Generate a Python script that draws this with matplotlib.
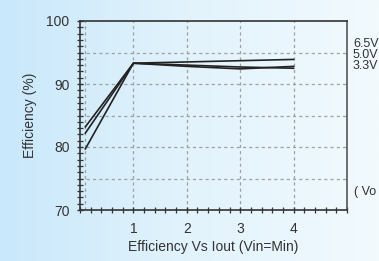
import numpy as np
import matplotlib.pyplot as plt
from matplotlib.colors import LinearSegmentedColormap

plt.rcParams['font.family'] = ['Liberation Sans', 'DejaVu Sans']

# data
iout = [0.1, 1, 2, 3, 4]
eff_65 = [83.2, 93.3, 93.5, 93.7, 93.9]
eff_50 = [82.2, 93.3, 93.0, 92.7, 92.5]
eff_33 = [79.7, 93.3, 92.8, 92.4, 92.8]
labels = ["6.5V", "5.0V", "3.3V"]

fig = plt.figure(figsize=(3.79, 2.61), dpi=100)

# background gradient
bg = fig.add_axes([0, 0, 1, 1], zorder=-10)
grad = np.linspace(0, 1, 256).reshape(1, -1)
cmap = LinearSegmentedColormap.from_list("bg", ["#c9e8fb", "#e2f3fc", "#f2fafe"])
bg.imshow(grad, aspect="auto", cmap=cmap, extent=[0, 1, 0, 1])
bg.axis("off")

ax = fig.add_axes([80 / 379, 1 - 210 / 261, 267 / 379, 189 / 261])
ax.patch.set_alpha(0)

for y in [eff_65, eff_50, eff_33]:
    ax.plot(iout, y, color="#222222", lw=1.2)

ax.set_xlim(0, 5)
ax.set_ylim(70, 100)
ax.set_xticks([1, 2, 3, 4])
ax.set_xticks(np.arange(0, 5.01, 0.2), minor=True)
ax.set_yticks([70, 80, 90, 100])
ax.set_yticks(np.arange(70, 100.1, 1), minor=True)
ax.tick_params(which="both", direction="inout", color="#333333", labelsize=10,
               labelcolor="#333333")
ax.tick_params(which="major", length=5, width=1)
ax.tick_params(which="minor", length=4, width=0.9)
ax.tick_params(axis="x", pad=6)
ax.tick_params(axis="y", pad=5)

for v in [0.1, 1, 2, 3, 4]:
    ax.axvline(v, color="#a0a0a0", lw=0.9, ls=(0, (2.5, 2.5)), zorder=0)
for v in [75, 80, 85, 90, 95]:
    ax.axhline(v, color="#a0a0a0", lw=0.9, ls=(0, (2.5, 2.5)), zorder=0)

for s in ax.spines.values():
    s.set_color("#333333")
    s.set_linewidth(1.2)
ax.spines["right"].set_color("#555555")

ax.set_xlabel("Efficiency Vs Iout (Vin=Min)", fontsize=10, color="#333333", labelpad=3)
ax.set_ylabel("Efficiency (%)", fontsize=10, color="#333333", labelpad=7)

for i, t in enumerate(labels):
    fig.text(353 / 379, 1 - (44 + 11 * i) / 261, t, fontsize=9, color="#333333",
             va="center", ha="left")
fig.text(354 / 379, 1 - 192 / 261, "( Vo", fontsize=9, color="#333333",
         va="center", ha="left")

fig.savefig("out.png", dpi=100)
